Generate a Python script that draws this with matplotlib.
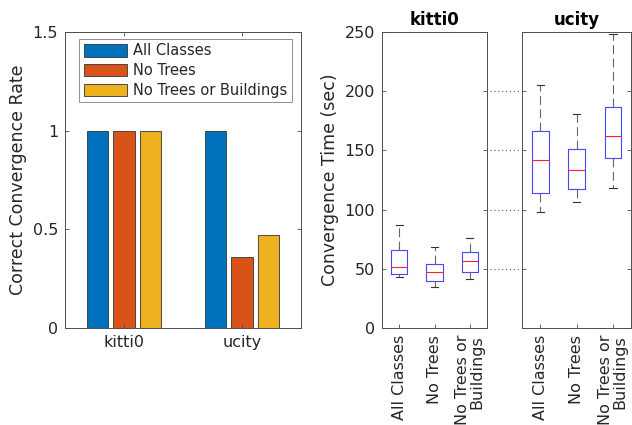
import matplotlib
matplotlib.use("Agg")
import matplotlib.pyplot as plt
import matplotlib.transforms as mtransforms
from matplotlib.patches import Patch
import numpy as np

plt.rcParams['font.family'] = ['DejaVu Sans']

# ---- data ----
datasets = ["kitti0", "ucity"]
variants = ["All Classes", "No Trees", "No Trees or Buildings"]
variant_ticklabels = ["All Classes", "No Trees", "No Trees or\nBuildings"]

# correct convergence rate per dataset, one list per variant
rate_all = [1.0, 1.0]
rate_no_trees = [1.0, 0.36]
rate_no_trees_bldg = [1.0, 0.47]

# convergence time box statistics (sec): [all, no trees, no trees/buildings]
kitti_whislo = [42.9, 34.8, 41.2]
kitti_q1 = [46.0, 39.8, 47.4]
kitti_med = [51.6, 47.1, 56.4]
kitti_q3 = [65.7, 53.9, 64.5]
kitti_whishi = [87.3, 68.2, 76.3]

ucity_whislo = [97.6, 106.6, 118.4]
ucity_q1 = [113.9, 117.8, 143.7]
ucity_med = [142.0, 133.8, 162.2]
ucity_q3 = [166.7, 151.5, 186.3]
ucity_whishi = [205.4, 180.7, 248.0]

colors = ["#0072BD", "#D95319", "#EDB120"]
spine_col = "0.3"

W, H = 632, 425
fig = plt.figure(figsize=(W / 100, H / 100), dpi=100)


def fx(px):
    return px / W


def fy(py):
    return 1 - py / H


top_px, bot_px = 32, 328

# ---- bar chart ----
ax = fig.add_axes([fx(65), fy(bot_px), fx(301) - fx(65), fy(top_px) - fy(bot_px)])
x = np.arange(1, len(datasets) + 1)
bw = 0.182
off = 0.224
for i, (vals, c, lab) in enumerate(zip([rate_all, rate_no_trees, rate_no_trees_bldg], colors, variants)):
    ax.bar(x + (i - 1) * off, vals, width=bw, color=c, edgecolor="0.2", linewidth=0.6, label=lab)
ax.set_xlim(0.5, 2.5)
ax.set_ylim(0, 1.5)
ax.set_xticks(x)
ax.set_xticklabels(datasets)
ax.set_yticks([0, 0.5, 1, 1.5])
ax.set_yticklabels(["0", "0.5", "1", "1.5"])
ax.tick_params(direction="in", length=3, width=0.6, colors=spine_col, labelcolor="0.15",
               labelsize=11.5, top=True, right=True, pad=5)
for s in ax.spines.values():
    s.set_color(spine_col)
    s.set_linewidth(0.7)
ax.set_ylabel("Correct Convergence Rate", fontsize=12.5, color="0.15", labelpad=4)
handles = [Patch(facecolor=c, edgecolor="0.2", linewidth=0.6) for c in colors]
leg = ax.legend(handles, variants, loc="upper left", bbox_to_anchor=(0.06, 0.976),
                fontsize=10.5, frameon=True, fancybox=False, edgecolor="0.45",
                handlelength=3.0, handleheight=0.95, handletextpad=0.4,
                labelspacing=0.32, borderpad=0.3, borderaxespad=0.0)
leg.get_frame().set_linewidth(0.7)
for t in leg.get_texts():
    t.set_color("0.15")

# ---- box plots ----
def make_stats(lo, q1, med, q3, hi):
    return [dict(whislo=a, q1=b, med=m, q3=d, whishi=e, fliers=[])
            for a, b, m, d, e in zip(lo, q1, med, q3, hi)]


box_props = dict(color="#4646ff", linewidth=0.8)
med_props = dict(color="#ff2020", linewidth=0.8)
whisk_props = dict(color="0.4", linewidth=0.8, linestyle=(0, (8, 4)))
cap_props = dict(color="0.2", linewidth=0.8)

axk = fig.add_axes([fx(381.7), fy(bot_px), fx(487.3) - fx(381.7), fy(top_px) - fy(bot_px)])
axu = fig.add_axes([fx(522.3), fy(bot_px), fx(631.2) - fx(522.3), fy(top_px) - fy(bot_px)])

for a, stats, title in [
    (axk, make_stats(kitti_whislo, kitti_q1, kitti_med, kitti_q3, kitti_whishi), datasets[0]),
    (axu, make_stats(ucity_whislo, ucity_q1, ucity_med, ucity_q3, ucity_whishi), datasets[1]),
]:
    a.bxp(stats, positions=[1, 2, 3], widths=0.46, capwidths=0.2, showfliers=False,
          boxprops=box_props, medianprops=med_props, whiskerprops=whisk_props,
          capprops=cap_props)
    a.set_xlim(0.5, 3.5)
    a.set_ylim(0, 250)
    a.set_yticks([0, 50, 100, 150, 200, 250])
    a.set_xticks([1, 2, 3])
    a.set_xticklabels(variant_ticklabels, rotation=90, ha="center", va="top",
                      multialignment="right", linespacing=0.95)
    a.tick_params(direction="in", length=3, width=0.6, colors=spine_col, labelcolor="0.15",
                  labelsize=11.5, right=True, top=False, pad=5)
    for s in a.spines.values():
        s.set_color(spine_col)
        s.set_linewidth(0.7)
    a.set_title(title, fontsize=12, fontweight="bold", pad=5)

axk.set_ylabel("Convergence Time (sec)", fontsize=12.5, color="0.15", labelpad=4)
axu.tick_params(labelleft=False)

# dotted guides across the gap between the two box panels
trans = mtransforms.blended_transform_factory(axu.transAxes, axu.transData)
for yv in [50, 100, 150, 200]:
    axu.plot([-0.30, -0.02], [yv, yv], transform=trans, clip_on=False,
             linestyle=(0, (1, 2.5)), color="0.35", linewidth=0.8)

fig.savefig("out.png", dpi=100)
